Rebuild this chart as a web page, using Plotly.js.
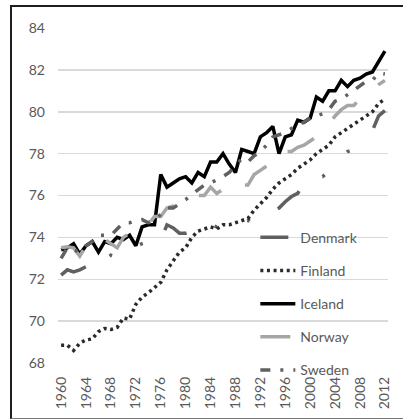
<!DOCTYPE html>
<html>
<head>
<meta charset="utf-8">
<script src="https://cdn.plot.ly/plotly-3.0.1.min.js"></script>
<style>
  html, body { margin: 0; padding: 0; background: #ffffff; }
  #wrap { position: relative; width: 403px; height: 419px; overflow: hidden; }
  #chart { position: absolute; left: 0; top: 0; width: 403px; height: 419px; }
  #frame { position: absolute; left: 10px; top: 5px; width: 400px; height: 411px;
           border-left: 2px solid #1e1e1e; border-top: 2px solid #1e1e1e; border-bottom: 1px solid #777;
           pointer-events: none; }
</style>
</head>
<body>
<div id="wrap">
  <div id="chart"></div>
  <div id="frame"></div>
</div>
<script>
// ---- data ----
const years = [];
for (let y = 1960; y <= 2012; y++) years.push(y);

const seriesNames = ["Denmark", "Finland", "Iceland", "Norway", "Sweden"];

const denmark = [72.2, 72.45, 72.35, 72.45, 72.6, 72.45, 72.55, 72.95, 73.15, 73.05,
                 73.35, 73.45, 73.55, 73.7, 73.8, 74.1, 73.85, 74.6, 74.45, 74.2,
                 74.2, 74.3, 74.45, 74.45, 74.6, 74.5, 74.65, 74.8, 74.8, 74.9,
                 74.8, 75.2, 75.35, 75.3, 75.2, 75.4, 75.7, 75.95, 76.1, 76.6,
                 76.6, 76.85, 76.9, 77.15, 77.5, 77.85, 78.1, 78.2, 78.45, 78.7,
                 79.1, 79.8, 80.05];

const finland = [68.85, 68.85, 68.6, 68.95, 69.1, 69.15, 69.5, 69.65, 69.6, 69.7,
                 70.15, 70.1, 70.8, 71.15, 71.35, 71.6, 71.85, 72.45, 72.9, 73.3,
                 73.5, 74.0, 74.3, 74.4, 74.5, 74.4, 74.6, 74.6, 74.7, 74.8,
                 74.9, 75.3, 75.6, 75.9, 76.3, 76.6, 76.8, 77.0, 77.3, 77.5,
                 77.7, 78.0, 78.2, 78.4, 78.8, 79.0, 79.2, 79.4, 79.6, 79.8,
                 80.0, 80.4, 80.6];

const iceland = [73.4, 73.5, 73.7, 73.2, 73.6, 73.8, 73.3, 73.8, 73.7, 74.0,
                 73.9, 74.1, 73.6, 74.5, 74.6, 74.6, 77.0, 76.4, 76.6, 76.8,
                 76.9, 76.6, 77.1, 76.9, 77.6, 77.6, 78.0, 77.5, 77.1, 78.2,
                 78.1, 78.0, 78.8, 79.0, 79.3, 78.0, 78.8, 78.9, 79.6, 79.5,
                 79.7, 80.7, 80.5, 81.0, 81.0, 81.5, 81.2, 81.5, 81.6, 81.8,
                 81.9, 82.4, 82.9];

const norway = [73.5, 73.55, 73.5, 73.1, 73.6, 73.7, 73.95, 73.9, 73.7, 73.5,
                74.0, 74.2, 74.35, 74.4, 74.6, 75.0, 75.0, 75.4, 75.5, 75.5,
                75.7, 75.8, 76.0, 76.0, 76.4, 76.1, 76.3, 76.1, 76.3, 76.5,
                76.5, 77.0, 77.2, 77.4, 77.8, 77.8, 78.1, 78.1, 78.3, 78.4,
                78.6, 78.8, 79.0, 79.4, 79.8, 80.1, 80.3, 80.3, 80.6, 80.8,
                81.0, 81.3, 81.5];

const sweden = [73.0, 73.5, 73.4, 73.3, 73.6, 73.8, 74.1, 74.1, 74.1, 74.4,
                74.7, 74.7, 74.8, 74.85, 74.7, 74.8, 75.1, 75.4, 75.4, 75.6,
                75.8, 76.05, 76.3, 76.5, 76.6, 76.75, 76.9, 77.1, 77.4, 77.75,
                77.6, 77.9, 78.1, 78.4, 78.8, 78.9, 79.0, 79.2, 79.35, 79.5,
                79.7, 79.8, 79.9, 80.1, 80.5, 80.6, 80.8, 81.0, 81.2, 81.45,
                81.5, 81.85, 81.8];

const xTickVals = [1960, 1964, 1968, 1972, 1976, 1980, 1984, 1988, 1992, 1996, 2000, 2004, 2008, 2012];
const xTickText = ["1960", "1964", "1968", "1972", "1976", "1980", "1984", "1988", "1992", "1996", "2000", "2004", "2008", "2012"];
const yTickVals = [68, 70, 72, 74, 76, 78, 80, 82, 84];
const yTickText = ["68", "70", "72", "74", "76", "78", "80", "82", "84"];

// ---- styles ----
const styles = [
  { color: "#606060", width: 3.5, dash: "28px,30px,3px,32px,3px,34px" },
  { color: "#2a2a2a", width: 3.5, dash: "3px,3.6px" },
  { color: "#000000", width: 3.5, dash: "solid" },
  { color: "#a6a6a6", width: 3.5, dash: "30px,28px" },
  { color: "#606060", width: 3.5, dash: "10px,10px,3px,10px" }
];
const values = [denmark, finland, iceland, norway, sweden];

const traces = seriesNames.map((name, i) => ({
  type: "scatter",
  mode: "lines",
  name: name,
  legendgroup: name,
  x: years,
  y: values[i],
  line: { color: styles[i].color, width: styles[i].width, dash: styles[i].dash },
  hoverinfo: "skip"
}));

const font = { family: "Lato, 'Open Sans', sans-serif", size: 14, color: "#595959" };

const layout = {
  width: 403,
  height: 419,
  margin: { l: 58, r: 15, t: 28, b: 56, pad: 0 },
  paper_bgcolor: "#ffffff",
  plot_bgcolor: "#ffffff",
  font: font,
  showlegend: true,
  legend: {
    x: 0.598, xanchor: "left",
    y: 0.422, yanchor: "top",
    bgcolor: "rgba(0,0,0,0)",
    borderwidth: 0,
    traceorder: "grouped",
    tracegroupgap: 12,
    itemwidth: 35,
    font: { family: font.family, size: 14, color: "#595959" }
  },
  xaxis: {
    type: "linear",
    range: [1959.5, 2012.5],
    tickmode: "array",
    tickvals: xTickVals,
    ticktext: xTickText,
    tickangle: -90,
    ticks: "",
    showgrid: false,
    zeroline: false,
    showline: false,
    ticklabelstandoff: 10,
    tickfont: font,
    fixedrange: true
  },
  yaxis: {
    range: [68, 84],
    tickmode: "array",
    tickvals: yTickVals,
    ticktext: yTickText,
    ticks: "",
    showgrid: true,
    gridcolor: "#d9d9d9",
    gridwidth: 1.5,
    zeroline: false,
    showline: false,
    ticklabelstandoff: 12,
    tickfont: font,
    fixedrange: true
  }
};

Plotly.newPlot("chart", traces, layout, { staticPlot: true, displayModeBar: false });
</script>
</body>
</html>
